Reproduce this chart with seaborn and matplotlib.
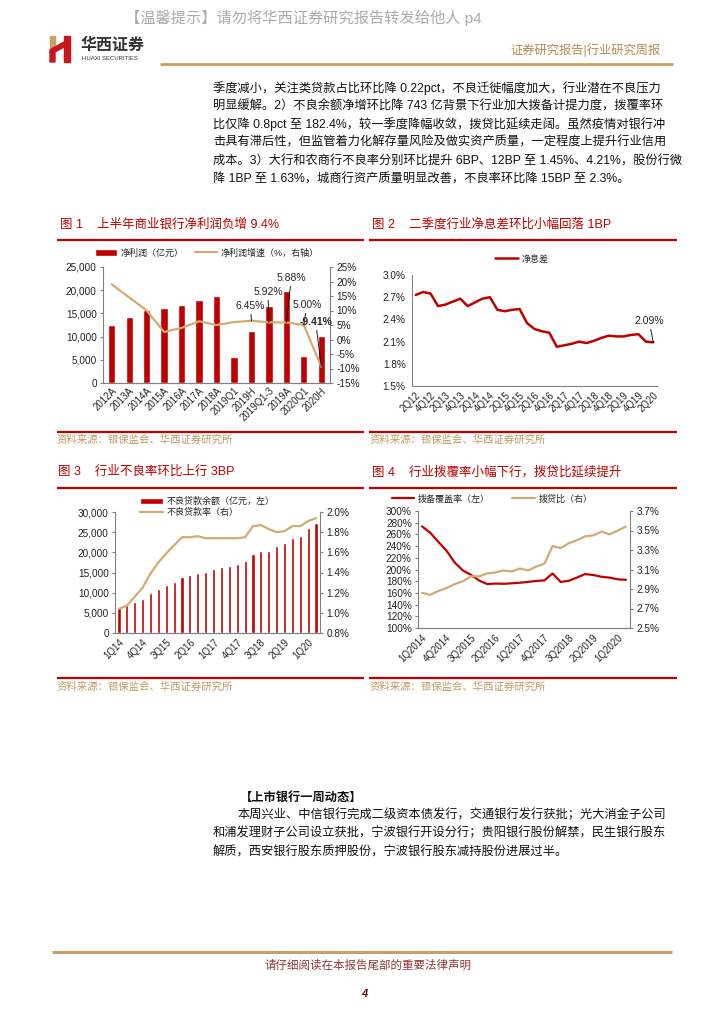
import numpy as np
import pandas as pd
import matplotlib
matplotlib.use('Agg')
import matplotlib.pyplot as plt
import seaborn as sns
from matplotlib.lines import Line2D
from matplotlib.patches import Patch, Polygon
from matplotlib.ticker import FuncFormatter

sns.set_style('white')
plt.rcParams['font.family'] = ['Liberation Sans', 'Noto Sans CJK SC']
plt.rcParams['axes.unicode_minus'] = False

RED = '#C00000'
GOLD = '#D4AA70'
SRC = '#BE9A64'
AXC = '#808080'

# ---- 图1 净利润 ----
profit_periods = ['2012A', '2013A', '2014A', '2015A', '2016A', '2017A', '2018A',
                  '2019Q1', '2019H', '2019Q1-3', '2019A', '2020Q1', '2020H']
profit_vals = [12600, 14300, 15800, 16200, 16800, 17900, 18800,
               5600, 11300, 16500, 19900, 5900, 10200]
profit_growth = [19.0, 14.5, 10.0, 2.6, 4.0, 6.3, 5.0,
                 6.0, 6.45, 5.92, 5.88, 5.00, -9.41]

# ---- 图2 净息差 ----
nim_quarters = ['2Q12', '3Q12', '4Q12', '1Q13', '2Q13', '3Q13', '4Q13',
                '1Q14', '2Q14', '3Q14', '4Q14', '1Q15', '2Q15', '3Q15', '4Q15',
                '1Q16', '2Q16', '3Q16', '4Q16', '1Q17', '2Q17', '3Q17', '4Q17',
                '1Q18', '2Q18', '3Q18', '4Q18', '1Q19', '2Q19', '3Q19', '4Q19',
                '1Q20', '2Q20']
nim_vals = [2.73, 2.77, 2.75, 2.58, 2.60, 2.64, 2.68,
            2.58, 2.63, 2.68, 2.70, 2.53, 2.51, 2.53, 2.54,
            2.35, 2.27, 2.24, 2.22, 2.03, 2.05, 2.07, 2.10,
            2.08, 2.11, 2.15, 2.18, 2.17, 2.17, 2.19, 2.20,
            2.10, 2.09]

# ---- 图3 不良贷款 ----
npl_quarters = ['1Q14', '2Q14', '3Q14', '4Q14', '1Q15', '2Q15', '3Q15', '4Q15',
                '1Q16', '2Q16', '3Q16', '4Q16', '1Q17', '2Q17', '3Q17', '4Q17',
                '1Q18', '2Q18', '3Q18', '4Q18', '1Q19', '2Q19', '3Q19', '4Q19',
                '1Q20', '2Q20']
npl_balance = [6461, 6944, 7669, 8426, 9825, 10919, 11863, 12744,
               13921, 14373, 14939, 15122, 15795, 16358, 16704, 17057,
               17742, 19571, 20243, 20254, 21571, 22352, 23672, 24135,
               26136, 27365]
npl_ratio = [1.04, 1.07, 1.16, 1.25, 1.39, 1.50, 1.59, 1.67,
             1.75, 1.75, 1.76, 1.74, 1.74, 1.74, 1.74, 1.74,
             1.75, 1.86, 1.87, 1.83, 1.80, 1.81, 1.86, 1.86,
             1.91, 1.94]

# ---- 图4 拨覆率/拨贷比 ----
cov_quarters = ['1Q2014', '2Q2014', '3Q2014', '4Q2014', '1Q2015', '2Q2015', '3Q2015', '4Q2015',
                '1Q2016', '2Q2016', '3Q2016', '4Q2016', '1Q2017', '2Q2017', '3Q2017', '4Q2017',
                '1Q2018', '2Q2018', '3Q2018', '4Q2018', '1Q2019', '2Q2019', '3Q2019', '4Q2019',
                '1Q2020', '2Q2020']
coverage = [273.7, 262.9, 247.2, 232.1, 212.0, 198.4, 190.8, 181.2,
            175.0, 176.0, 175.5, 176.4, 177.4, 178.8, 180.4, 181.4,
            193.2, 178.7, 180.7, 186.3, 192.2, 190.6, 187.6, 186.1,
            183.2, 182.4]
prov_ratio = [2.86, 2.84, 2.88, 2.91, 2.95, 2.98, 3.03, 3.03,
              3.06, 3.07, 3.09, 3.08, 3.11, 3.09, 3.13, 3.16,
              3.34, 3.32, 3.37, 3.40, 3.44, 3.45, 3.49, 3.46,
              3.50, 3.54]

body_lines = [
    '季度减小，关注类贷款占比环比降 0.22pct，不良迁徙幅度加大，行业潜在不良压力',
    '明显缓解。2）不良余额净增环比降 743 亿背景下行业加大拨备计提力度，拨覆率环',
    '比仅降 0.8pct 至 182.4%，较一季度降幅收敛，拨贷比延续走阔。虽然疫情对银行冲',
    '击具有滞后性，但监管着力化解存量风险及做实资产质量，一定程度上提升行业信用',
    '成本。3）大行和农商行不良率分别环比提升 6BP、12BP 至 1.45%、4.21%，股份行微',
    '降 1BP 至 1.63%，城商行资产质量明显改善，不良率环比降 15BP 至 2.3%。',
]
news_lines = [
    '本周兴业、中信银行完成二级资本债发行，交通银行发行获批；光大消金子公司',
    '和浦发理财子公司设立获批，宁波银行开设分行；贵阳银行股份解禁，民生银行股东',
    '解质，西安银行股东质押股份，宁波银行股东减持股份进展过半。',
]

W, H = 724, 1024
fig = plt.figure(figsize=(7.24, 10.24), dpi=100)


def box(x0, y0, x1, y1):
    return [x0 / W, 1 - y1 / H, (x1 - x0) / W, (y1 - y0) / H]


def ftext(x, y, s, **kw):
    kw.setdefault('va', 'center')
    kw.setdefault('ha', 'left')
    fig.text(x / W, 1 - y / H, s, **kw)


def hline(x0, x1, y, color, lw):
    fig.add_artist(Line2D([x0 / W, x1 / W], [1 - y / H, 1 - y / H],
                          transform=fig.transFigure, color=color, lw=lw,
                          solid_capstyle='butt'))


def style_axes(ax, right=False):
    for s in ['top', 'right', 'left', 'bottom']:
        ax.spines[s].set_visible(False)
    ax.spines['bottom'].set_visible(True)
    ax.spines['bottom'].set_color(AXC)
    side = 'right' if right else 'left'
    ax.spines[side].set_visible(True)
    ax.spines[side].set_color(AXC)
    ax.spines['bottom'].set_linewidth(0.8)
    ax.spines[side].set_linewidth(0.8)
    ax.set_xlabel('')
    ax.set_ylabel('')
    ax.tick_params(axis='y', labelsize=7.2, length=2.5, color=AXC, pad=2,
                   labelcolor='#222222')


def rot_labels(ax):
    for lab in ax.get_xticklabels():
        lab.set_rotation(45)
        lab.set_ha('right')
        lab.set_rotation_mode('anchor')


# ---------------- header ----------------
ftext(125, 18, '【温馨提示】请勿将华西证券研究报告转发给他人 p4', fontsize=11,
      color='#ABABAB')
fig.add_artist(Polygon([(50 / W, 1 - 36 / H), (55 / W, 1 - 36 / H), (55 / W, 1 - 50 / H),
                        (50 / W, 1 - 50 / H)], closed=True, transform=fig.transFigure,
                       color='#C9A063'))
fig.add_artist(Polygon([(50 / W, 1 - 50 / H), (55 / W, 1 - 47 / H), (55 / W, 1 - 62 / H),
                        (50 / W, 1 - 62 / H)], closed=True, transform=fig.transFigure,
                       color='#C8161D'))
fig.add_artist(Polygon([(55 / W, 1 - 47 / H), (64 / W, 1 - 42 / H), (64 / W, 1 - 47 / H),
                        (55 / W, 1 - 52 / H)], closed=True, transform=fig.transFigure,
                       color='#C8161D'))
fig.add_artist(Polygon([(64 / W, 1 - 36 / H), (70 / W, 1 - 36 / H), (70 / W, 1 - 62 / H),
                        (64 / W, 1 - 62 / H)], closed=True, transform=fig.transFigure,
                       color='#C8161D'))
ftext(81, 45, '华西证券', fontsize=11.5, fontweight='bold', color='#333333')
ftext(82, 58, 'HUAXI SECURITIES', fontsize=4.3, color='#333333')
ftext(510, 50, '证券研究报告|行业研究周报', fontsize=8.8, color='#B48A50')
hline(160, 673, 64, '#C9A063', 2.0)

# ---------------- body ----------------
for i, line in enumerate(body_lines):
    ftext(213, 88 + i * 18.3, line, fontsize=8.8, color='#111111')

# titles and frames
ftext(60, 224, '图 1    上半年商业银行净利润负增 9.4%', fontsize=9, color=RED)
ftext(372, 224, '图 2    二季度行业净息差环比小幅回落 1BP', fontsize=9, color=RED)
ftext(58, 472, '图 3    行业不良率环比上行 3BP', fontsize=9, color=RED)
ftext(372, 472, '图 4    行业拨覆率小幅下行，拨贷比延续提升', fontsize=9, color=RED)
for y in (240, 432, 488, 678):
    hline(57, 364, y, RED, 1.6)
    hline(369, 677, y, RED, 1.6)
for x in (57, 370):
    ftext(x, 440, '资料来源：银保监会、华西证券研究所', fontsize=7.5, color=SRC)
    ftext(x, 687, '资料来源：银保监会、华西证券研究所', fontsize=7.5, color=SRC)

# ---------------- chart 1 ----------------
ax1 = fig.add_axes(box(103, 267, 330, 383))
df1 = pd.DataFrame({'period': profit_periods, 'profit': profit_vals})
sns.barplot(data=df1, x='period', y='profit', color=RED, saturation=1,
            width=0.42, ax=ax1)
ax1.set_ylim(0, 25000)
ax1.set_yticks(range(0, 25001, 5000))
ax1.yaxis.set_major_formatter(FuncFormatter(lambda v, p: f'{v:,.0f}'))
style_axes(ax1)
ax1.tick_params(axis='x', labelsize=7, length=0, pad=2)
rot_labels(ax1)
ax1b = ax1.twinx()
sns.lineplot(x=np.arange(len(profit_periods)), y=profit_growth, ax=ax1b,
             color=GOLD, lw=1.6)
ax1b.set_ylim(-15, 25)
ax1b.set_yticks(range(-15, 26, 5))
ax1b.yaxis.set_major_formatter(FuncFormatter(lambda v, p: f'{v:.0f}%'))
style_axes(ax1b, right=True)
ax1.set_xlim(-0.5, 12.5)
ax1b.set_xlim(-0.5, 12.5)
offsets = {8: (-0.7, 10.7), 9: (-0.7, 21.8), 10: (3.6, 32), 11: (2.2, 14.4), 12: (-4.0, 32.4)}
for i, (dx, dy) in offsets.items():
    ax1b.annotate(f'{profit_growth[i]:.2f}%', xy=(i, profit_growth[i]),
                  xytext=(dx, dy), textcoords='offset points', ha='center', va='center',
                  fontsize=7.5, fontweight='bold' if profit_growth[i] < 0 else 'normal',
                  arrowprops=dict(arrowstyle='-', lw=0.6, color='black',
                                  shrinkA=0, shrinkB=0))
ax1.legend(handles=[Patch(facecolor=RED, label='净利润（亿元）'),
                    Line2D([0], [0], color=GOLD, lw=1.6, label='净利润增速（%，右轴）')],
           loc='center', bbox_to_anchor=(207 / W, 1 - 253 / H),
           bbox_transform=fig.transFigure, ncol=2, frameon=False, fontsize=6.5,
           handlelength=2.5, handletextpad=0.4, columnspacing=1.2)

# ---------------- chart 2 ----------------
ax2 = fig.add_axes(box(412, 275, 657, 386))
sns.lineplot(x=np.arange(len(nim_quarters)), y=nim_vals, ax=ax2, color=RED, lw=1.8)
ax2.set_ylim(1.5, 3.0)
ax2.set_yticks(np.arange(1.5, 3.01, 0.3))
ax2.yaxis.set_major_formatter(FuncFormatter(lambda v, p: f'{v:.1f}%'))
ax2.set_xlim(-0.5, len(nim_quarters) - 0.5)
ax2.set_xticks(np.arange(len(nim_quarters)))
ax2.set_xticklabels([q if i % 2 == 0 else '' for i, q in enumerate(nim_quarters)])
style_axes(ax2)
ax2.tick_params(axis='x', labelsize=7, length=2.5, direction='in', color=AXC, pad=3)
rot_labels(ax2)
ax2.annotate(f'{nim_vals[-1]:.2f}%', xy=(len(nim_vals) - 1, nim_vals[-1]),
             xytext=(-3, 15.4), textcoords='offset points', ha='center', va='center',
             fontsize=7.5, arrowprops=dict(arrowstyle='-', lw=0.6, color='black',
                                           shrinkA=0, shrinkB=0))
ax2.legend(handles=[Line2D([0], [0], color=RED, lw=1.8, label='净息差')],
           loc='center', bbox_to_anchor=(522 / W, 1 - 259 / H),
           bbox_transform=fig.transFigure, frameon=False, fontsize=6.5,
           handlelength=2.5, handletextpad=0.4)

# ---------------- chart 3 ----------------
ax3 = fig.add_axes(box(115, 512, 320, 633))
df3 = pd.DataFrame({'q': npl_quarters, 'bal': npl_balance})
sns.barplot(data=df3, x='q', y='bal', color=RED, saturation=1, width=0.4, ax=ax3)
ax3.set_ylim(0, 30000)
ax3.set_yticks(range(0, 30001, 5000))
ax3.yaxis.set_major_formatter(FuncFormatter(lambda v, p: f'{v:,.0f}'))
ax3.set_xticks(np.arange(0, len(npl_quarters), 3))
ax3.set_xticklabels(npl_quarters[::3])
style_axes(ax3)
ax3.tick_params(axis='x', labelsize=7, length=0, pad=3)
rot_labels(ax3)
ax3b = ax3.twinx()
sns.lineplot(x=np.arange(len(npl_quarters)), y=npl_ratio, ax=ax3b, color=GOLD, lw=1.6)
ax3b.set_ylim(0.8, 2.0)
ax3b.set_yticks(np.arange(0.8, 2.01, 0.2))
ax3b.yaxis.set_major_formatter(FuncFormatter(lambda v, p: f'{v:.1f}%'))
style_axes(ax3b, right=True)
ax3.set_xlim(-0.5, len(npl_quarters) - 0.5)
ax3b.set_xlim(-0.5, len(npl_quarters) - 0.5)
ax3.legend(handles=[Patch(facecolor=RED, label='不良贷款余额（亿元，左）'),
                    Line2D([0], [0], color=GOLD, lw=1.6, label='不良贷款率（右）')],
           loc='upper left', bbox_to_anchor=(132 / W, 1 - 489 / H),
           bbox_transform=fig.transFigure, frameon=False, fontsize=6.5,
           handlelength=2.5, handletextpad=0.4, labelspacing=0.15)

# ---------------- chart 4 ----------------
ax4 = fig.add_axes(box(418, 511, 630, 628))
x4 = np.arange(len(cov_quarters))
sns.lineplot(x=x4, y=coverage, ax=ax4, color=RED, lw=1.6)
ax4.set_ylim(100, 300)
ax4.set_yticks(range(100, 301, 20))
ax4.yaxis.set_major_formatter(FuncFormatter(lambda v, p: f'{v:.0f}%'))
ax4.set_xticks(np.arange(0, len(cov_quarters), 3))
ax4.set_xticklabels(cov_quarters[::3])
style_axes(ax4)
ax4.tick_params(axis='x', labelsize=7, length=0, pad=3)
rot_labels(ax4)
ax4b = ax4.twinx()
sns.lineplot(x=x4, y=prov_ratio, ax=ax4b, color=GOLD, lw=1.6)
ax4b.set_ylim(2.5, 3.7)
ax4b.set_yticks(np.arange(2.5, 3.71, 0.2))
ax4b.yaxis.set_major_formatter(FuncFormatter(lambda v, p: f'{v:.1f}%'))
style_axes(ax4b, right=True)
ax4.set_xlim(-0.5, len(cov_quarters) - 0.5)
ax4b.set_xlim(-0.5, len(cov_quarters) - 0.5)
ax4.legend(handles=[Line2D([0], [0], color=RED, lw=1.6, label='拨备覆盖率（左）'),
                    Line2D([0], [0], color=GOLD, lw=1.6, label='拨贷比（右）')],
           loc='center', bbox_to_anchor=(492 / W, 1 - 499 / H),
           bbox_transform=fig.transFigure, ncol=2, frameon=False, fontsize=6.5,
           handlelength=2.5, handletextpad=0.4, columnspacing=2.5)

# ---------------- bottom text ----------------
ftext(240, 798, '【上市银行一周动态】', fontsize=8.8, fontweight='bold', color='#111111')
ftext(238, 815, news_lines[0], fontsize=8.8, color='#111111')
ftext(213, 833.5, news_lines[1], fontsize=8.8, color='#111111')
ftext(213, 852, news_lines[2], fontsize=8.8, color='#111111')

# footer
hline(52, 672, 952, '#C9A063', 2.2)
ftext(368, 966, '请仔细阅读在本报告尾部的重要法律声明', ha='center', fontsize=8.3,
      color='#8B3A3A')
ftext(364, 994, '4', ha='center', fontsize=8, fontweight='bold', fontstyle='italic',
      color='#6B0F0F')

fig.savefig('out.png', dpi=100)
